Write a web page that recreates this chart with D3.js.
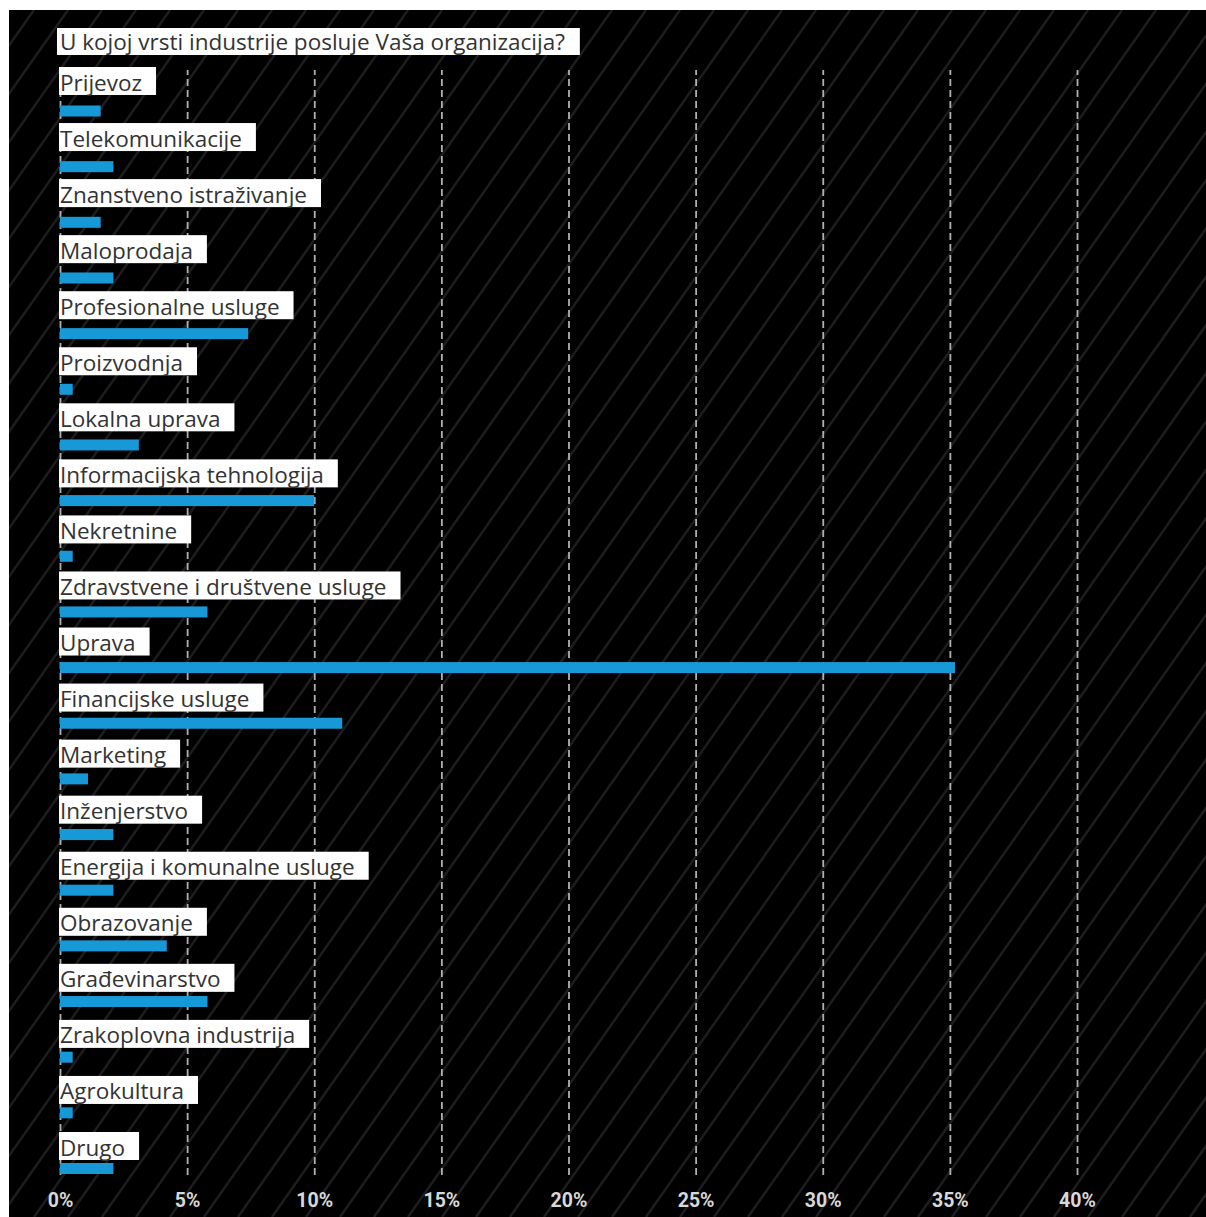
<!DOCTYPE html>
<html>
<head>
<meta charset="utf-8">
<script src="https://cdn.jsdelivr.net/npm/d3@7/dist/d3.min.js"></script>
<style>
  html, body { margin: 0; padding: 0; background: #fff; }
  svg { display: block; }
  .label-text { font-family: "Segoe UI", "Open Sans", sans-serif; font-size: 22.5px; fill: #333; }
  .tick text { font-family: Roboto, "DejaVu Sans", sans-serif; font-weight: bold; font-size: 19.5px; fill: #d8d8d8; }
</style>
</head>
<body>
<svg id="chart" width="1206" height="1217"></svg>
<script>
  var title = 'U kojoj vrsti industrije posluje Vaša organizacija?';

  var categories = [
    'Prijevoz',
    'Telekomunikacije',
    'Znanstveno istraživanje',
    'Maloprodaja',
    'Profesionalne usluge',
    'Proizvodnja',
    'Lokalna uprava',
    'Informacijska tehnologija',
    'Nekretnine',
    'Zdravstvene i društvene usluge',
    'Uprava',
    'Financijske usluge',
    'Marketing',
    'Inženjerstvo',
    'Energija i komunalne usluge',
    'Obrazovanje',
    'Građevinarstvo',
    'Zrakoplovna industrija',
    'Agrokultura',
    'Drugo'
  ];

  // share of respondents, %
  var values = [1.6, 2.1, 1.6, 2.1, 7.4, 0.5, 3.1, 10.0, 0.5, 5.8, 35.2, 11.1, 1.1, 2.1, 2.1, 4.2, 5.8, 0.5, 0.5, 2.1];

  var tickValues = [0, 5, 10, 15, 20, 25, 30, 35, 40];

  var width = 1206;
  var height = 1217;
  var svg = d3.select('#chart');

  // black panel with faint diagonal stripes
  svg.append('clipPath').attr('id', 'panel-clip')
    .append('rect').attr('x', 9).attr('y', 10).attr('width', width - 9).attr('height', height - 10);

  svg.append('rect')
    .attr('x', 9).attr('y', 10)
    .attr('width', width - 9).attr('height', height - 10)
    .attr('fill', '#000');

  var slope = 1.42;
  var run = (height - 10) / slope;
  svg.append('g')
    .attr('clip-path', 'url(#panel-clip)')
    .selectAll('line')
    .data(d3.range(-run, width + 40, 34))
    .join('line')
    .attr('x1', function (d) { return d; })
    .attr('y1', height)
    .attr('x2', function (d) { return d + run; })
    .attr('y2', 10)
    .attr('stroke', '#1d1d1d')
    .attr('stroke-width', 2.5);

  var x = d3.scaleLinear().domain([0, 40]).range([60, 1077]);
  var yBar = d3.scalePoint().domain(categories).range([111, 1168.5]);
  var yLabel = d3.scalePoint().domain(categories).range([67, 1132]);

  var gridTop = 70;
  var gridBottom = 1175;

  var axis = d3.axisBottom(x)
    .tickValues(tickValues)
    .tickSize(-(gridBottom - gridTop))
    .tickPadding(18)
    .tickFormat(function (d) { return d + '%'; });

  var axisG = svg.append('g')
    .attr('transform', 'translate(0,' + gridBottom + ')')
    .call(axis);

  axisG.select('.domain').remove();
  axisG.selectAll('.tick line')
    .attr('stroke', '#b0b0b0')
    .attr('stroke-width', 1.8)
    .attr('stroke-dasharray', '7,4');

  var barH = 11;
  svg.append('g')
    .selectAll('rect')
    .data(values)
    .join('rect')
    .attr('x', x(0))
    .attr('y', function (d, i) { return yBar(categories[i]) - barH / 2; })
    .attr('width', function (d) { return x(d) - x(0); })
    .attr('height', barH)
    .attr('fill', '#1799d8');

  var labels = svg.append('g')
    .selectAll('g')
    .data(categories)
    .join('g')
    .attr('transform', function (d) { return 'translate(59,' + yLabel(d) + ')'; });

  labels.append('rect')
    .attr('height', 28)
    .attr('fill', '#fff');

  labels.append('text')
    .attr('class', 'label-text')
    .attr('x', 1)
    .attr('y', 23.5)
    .text(function (d) { return d; });

  labels.each(function () {
    var g = d3.select(this);
    var w = g.select('text').node().getComputedTextLength();
    g.select('rect').attr('width', w + 15);
  });

  var titleG = svg.append('g').attr('transform', 'translate(57,28)');
  var titleRect = titleG.append('rect').attr('height', 27).attr('fill', '#fff');
  var titleText = titleG.append('text')
    .attr('class', 'label-text')
    .attr('x', 3)
    .attr('y', 22)
    .text(title);
  titleRect.attr('width', titleText.node().getComputedTextLength() + 18);
</script>
</body>
</html>
